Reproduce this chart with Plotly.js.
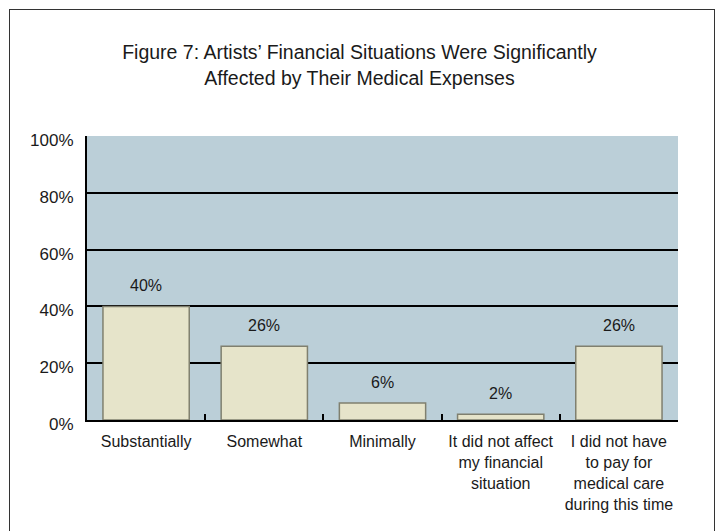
<!DOCTYPE html>
<html>
<head>
<meta charset="utf-8">
<script src="https://cdn.plot.ly/plotly-3.0.1.min.js"></script>
<style>
  html, body { margin: 0; padding: 0; background: #ffffff; }
  #wrap { position: relative; width: 719px; height: 531px; overflow: hidden; }
  #chart { position: absolute; left: 0; top: 0; width: 719px; height: 531px; }
  #frame { position: absolute; left: 9px; top: 9px; width: 704px; height: 600px;
           border: 1.5px solid #333333; pointer-events: none; z-index: 5; }
</style>
</head>
<body>
<div id="wrap">
  <div id="chart"></div>
  <div id="frame"></div>
</div>
<script>
const categories = [
  "Substantially",
  "Somewhat",
  "Minimally",
  "It did not affect<br>my financial<br>situation",
  "I did not have<br>to pay for<br>medical care<br>during this time"
];
const percentValues = [40, 26, 6, 2, 26];
const valueLabels = ["40%", "26%", "6%", "2%", "26%"];
const yTickValues = [0, 20, 40, 60, 80, 100];
const yTickLabels = ["0%", "20%", "40%", "60%", "80%", "100%"];
const chartTitle = "Figure 7: Artists\u2019 Financial Situations Were Significantly<br>Affected by Their Medical Expenses";

const baseFont = "Liberation Sans, Arial, sans-serif";

const trace = {
  type: "bar",
  x: categories,
  y: percentValues,
  marker: { color: "#E6E4CA", line: { color: "#80806F", width: 1.5 } },
  hoverinfo: "skip"
};

const labelAnnotations = categories.map((c, i) => ({
  x: c,
  y: percentValues[i],
  xref: "x",
  yref: "y",
  text: valueLabels[i],
  showarrow: false,
  yanchor: "bottom",
  yshift: 10,
  font: { family: baseFont, size: 16, color: "#1a1a1a" }
}));

const layout = {
  width: 719,
  height: 531,
  margin: { l: 87, r: 41, t: 136, b: 111 },
  paper_bgcolor: "#ffffff",
  plot_bgcolor: "#BBCFD8",
  bargap: 0.27,
  showlegend: false,
  title: {
    text: chartTitle,
    x: 0.5,
    xanchor: "center",
    y: 0.888,
    yanchor: "middle",
    font: { family: baseFont, size: 19.5, color: "#1a1a1a" }
  },
  annotations: labelAnnotations,
  xaxis: {
    type: "category",
    showline: true,
    linecolor: "#000000",
    linewidth: 2,
    ticks: "inside",
    tickson: "boundaries",
    ticklen: 6,
    tickwidth: 2,
    tickcolor: "#000000",
    showgrid: false,
    ticklabelstandoff: 6,
    tickfont: { family: baseFont, size: 16, color: "#1a1a1a" },
    tickangle: 0
  },
  yaxis: {
    range: [0, 100],
    tickvals: yTickValues,
    ticktext: yTickLabels,
    showline: true,
    linecolor: "#000000",
    linewidth: 2,
    ticks: "",
    showgrid: true,
    gridcolor: "#000000",
    gridwidth: 2,
    zeroline: false,
    ticklabelstandoff: 8,
    ticklabelshift: 4,
    tickfont: { family: baseFont, size: 17, color: "#1a1a1a" }
  }
};

Plotly.newPlot("chart", [trace], layout, { displayModeBar: false, staticPlot: true });
</script>
</body>
</html>
